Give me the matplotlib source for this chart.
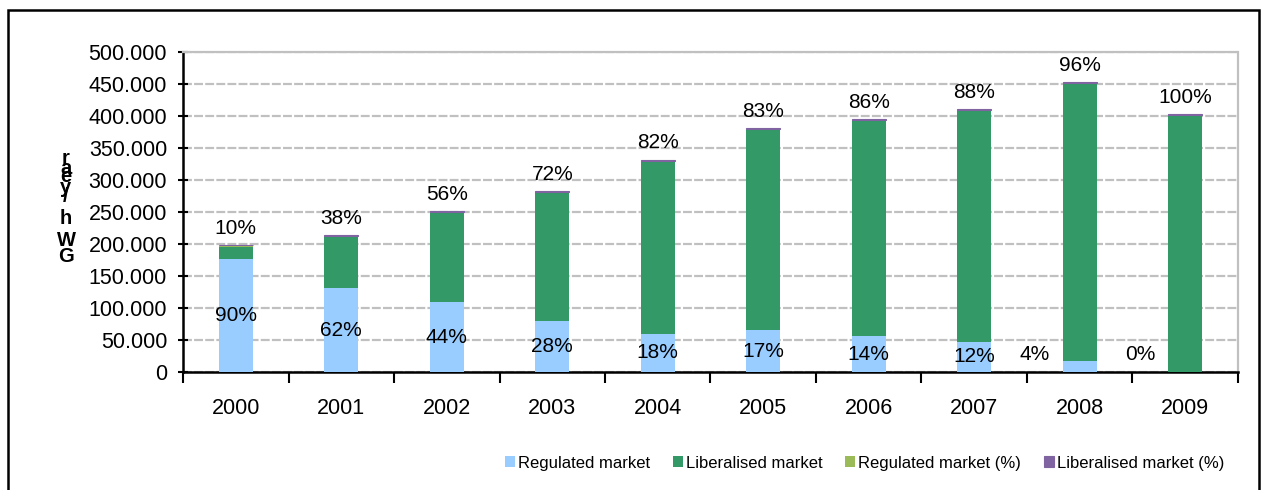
import numpy as np
import matplotlib.pyplot as plt
from matplotlib.patches import Rectangle
from matplotlib.ticker import FuncFormatter

plt.rcParams['font.family'] = ['Liberation Sans', 'DejaVu Sans']

# GWh per year by market type
years = ['2000', '2001', '2002', '2003', '2004', '2005', '2006', '2007', '2008', '2009']
regulated = [177000, 131000, 109000, 79000, 60000, 65000, 55500, 47000, 17700, 0]
liberalised = [19000, 81000, 140000, 202000, 270000, 314500, 338000, 362000, 433500, 401500]
regulated_pct = [90, 62, 44, 28, 18, 17, 14, 12, 4, 0]
liberalised_pct = [10, 38, 56, 72, 82, 83, 86, 88, 96, 100]

c_reg = '#99ccff'
c_lib = '#339966'
c_reg_pct = '#9bbb59'
c_lib_pct = '#8064a2'

# the % series sit on top of the stack as a thin sliver
pct_scale = 20

x = np.arange(len(years))
reg = np.array(regulated, dtype=float)
lib = np.array(liberalised, dtype=float)
rp = np.array(regulated_pct, dtype=float) * pct_scale
lp = np.array(liberalised_pct, dtype=float) * pct_scale

fig = plt.figure(figsize=(12.64, 4.9), dpi=100)
ax = fig.add_axes([0.1448, 0.2408, 0.8346, 0.6531])

w = 0.32
ax.bar(x, reg, w, color=c_reg, label='Regulated market', zorder=3)
ax.bar(x, lib, w, bottom=reg, color=c_lib, label='Liberalised market', zorder=3)
ax.bar(x, rp, w, bottom=reg + lib, color=c_reg_pct, label='Regulated market (%)', zorder=3)
ax.bar(x, lp, w, bottom=reg + lib + rp, color=c_lib_pct, edgecolor=c_lib_pct,
       linewidth=0.8, label='Liberalised market (%)', zorder=3)

top = reg + lib + rp + lp
for i in range(len(years)):
    if reg[i] > 30000:
        ax.text(x[i], reg[i] / 2, f'{regulated_pct[i]}%', ha='center', va='center',
                fontsize=15, zorder=4)
    else:
        ax.text(x[i] - 0.43, 27000, f'{regulated_pct[i]}%', ha='center', va='center',
                fontsize=15, zorder=4)
    ax.annotate(f'{liberalised_pct[i]}%', (x[i], top[i]), xytext=(0, 12),
                textcoords='offset points', ha='center', va='center', fontsize=15, zorder=4)

ax.set_xlim(-0.5, len(years) - 0.5)
ax.set_ylim(0, 500000)
ax.set_yticks(np.arange(0, 500001, 50000))
ax.yaxis.set_major_formatter(FuncFormatter(lambda v, p: f'{int(v):,}'.replace(',', '.')))
ax.set_xticks(x)
ax.set_xticklabels(years)
ax.set_xticks(np.arange(-0.5, len(years), 1), minor=True)
ax.tick_params(axis='x', which='major', length=0, pad=19, labelsize=15.5)
ax.tick_params(axis='x', which='minor', length=8, width=1.5, direction='out')
ax.tick_params(axis='y', length=7, width=1.5, direction='inout', pad=8, labelsize=15.5)

ax.grid(axis='y', color='#c0c0c0', linestyle=(0, (4, 1)), linewidth=1.6, zorder=0)
for s in ('left', 'bottom'):
    ax.spines[s].set_linewidth(1.8)
for s in ('top', 'right'):
    ax.spines[s].set_color('#c0c0c0')
    ax.spines[s].set_linestyle((0, (4, 1)))
    ax.spines[s].set_linewidth(1.6)

# stacked axis title, letters upright and packed tight
ylab = ['r', 'a', 'e', 'y', '/', 'h', 'W', 'G']
ylab_y = [159, 168, 177, 187, 197, 218, 240, 257]
for ch, py in zip(ylab, ylab_y):
    fig.text(66 / 1264, 1 - py / 490, ch, ha='center', va='center',
             fontsize=14.5, fontweight='bold')

fig.legend(loc='center', bbox_to_anchor=(0.684, 0.055), ncol=4, frameon=False,
           fontsize=12, handlelength=0.6, handleheight=0.6, handletextpad=0.2,
           columnspacing=1.35)

fig.patches.append(Rectangle((8 / 1264, -0.05), 1251 / 1264, 1.05 - 10 / 490,
                             transform=fig.transFigure, fill=False,
                             edgecolor='black', linewidth=1.8))

fig.savefig('out.png', dpi=100)
